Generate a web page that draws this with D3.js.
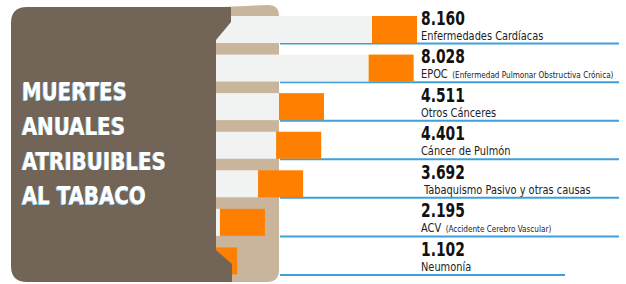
<!DOCTYPE html>
<html>
<head>
<meta charset="utf-8">
<script src="https://cdn.jsdelivr.net/npm/d3@7/dist/d3.min.js"></script>
<style>
  html, body { margin: 0; padding: 0; background: #ffffff; }
  svg { display: block; }
  .narrow { font-family: "Liberation Sans Narrow", "Arial Narrow", "DejaVu Sans Condensed", sans-serif; }
</style>
</head>
<body>
<svg id="chart" width="626" height="284"></svg>
<script>
// ---- data ----
const titleLines = ["MUERTES", "ANUALES", "ATRIBUIBLES", "AL TABACO"];
const categories = ["Enfermedades Cardíacas", "EPOC", "Otros Cánceres", "Cáncer de Pulmón",
                    "Tabaquismo Pasivo y otras causas", "ACV", "Neumonía"];
const notes = ["", "(Enfermedad Pulmonar Obstructiva Crónica)", "", "", "", "(Accidente Cerebro Vascular)", ""];
const values = [8160, 8028, 4511, 4401, 3692, 2195, 1102];
const valueLabels = ["8.160", "8.028", "4.511", "4.401", "3.692", "2.195", "1.102"];

// ---- style ----
const colBrown = "#726557", colTan = "#c8b59c", colGray = "#f1f3f3",
      colOrange = "#ff8000", colBlue = "#3f9fdb";

const svg = d3.select("#chart");
const rows = categories.map((c, i) => ({ cat: c, note: notes[i], v: values[i], lab: valueLabels[i] }));

const x = d3.scaleLinear().domain([0, d3.max(values)]).range([209, 417]);
const y = d3.scaleBand().domain(categories).range([5, 275]).paddingInner(0).paddingOuter(0);
const barOff = 11, barH = 27, orangeW = 45;

// tan background shape
const tan = d3.path();
tan.moveTo(200, 8); tan.lineTo(268, 5); tan.quadraticCurveTo(279, 5, 279, 16);
tan.lineTo(279, 270); tan.quadraticCurveTo(279, 282, 267, 282);
tan.lineTo(200, 282); tan.closePath();
svg.append("path").attr("d", tan.toString()).attr("fill", colTan);

// blue separator lines
svg.append("g").selectAll("line").data(rows).join("line")
  .attr("x1", 280)
  .attr("x2", (d, i) => i === rows.length - 1 ? 565 : 619)
  .attr("y1", d => y(d.cat) + y.bandwidth())
  .attr("y2", d => y(d.cat) + y.bandwidth())
  .attr("stroke", colBlue).attr("stroke-width", 2);

// gray bars
svg.append("g").selectAll("rect").data(rows).join("rect")
  .attr("x", x(0))
  .attr("y", d => y(d.cat) + barOff)
  .attr("width", d => Math.max(0, x(d.v) - orangeW - x(0)))
  .attr("height", barH)
  .attr("fill", colGray);

// orange bar ends
svg.append("g").selectAll("rect").data(rows).join("rect")
  .attr("x", d => x(d.v) - orangeW)
  .attr("y", d => y(d.cat) + barOff)
  .attr("width", orangeW)
  .attr("height", barH)
  .attr("fill", colOrange);

// brown title panel
const r = 16;
const br = d3.path();
br.moveTo(11 + r, 7); br.lineTo(231, 7); br.lineTo(231, 22); br.lineTo(216, 40);
br.lineTo(216, 250); br.lineTo(232, 264); br.lineTo(232, 282);
br.lineTo(11 + r, 282); br.quadraticCurveTo(11, 282, 11, 282 - r);
br.lineTo(11, 7 + r); br.quadraticCurveTo(11, 7, 11 + r, 7); br.closePath();
svg.append("path").attr("d", br.toString()).attr("fill", colBrown);

// title (condensed by horizontal squeeze)
const kTitle = 0.9;
const tg = svg.append("g").attr("class", "narrow")
  .attr("font-size", 24.5).attr("font-weight", "bold");
titleLines.forEach((t, i) => {
  const by = 100 + i * 34.8;
  tg.append("text").attr("transform", `translate(21.2,${by + 0.6}) scale(${kTitle},1)`)
    .attr("fill", "#a9d9f2").text(t);
  tg.append("text").attr("transform", `translate(22,${by}) scale(${kTitle},1)`)
    .attr("fill", "#ffffff").text(t);
});

// labels
const kVal = 0.8, kCat = 0.91;
const lg = svg.append("g").attr("class", "narrow");
lg.selectAll("text.val").data(rows).join("text").attr("class", "val")
  .attr("transform", d => `translate(421,${y(d.cat) + y.bandwidth() - 19}) scale(${kVal},1)`)
  .attr("font-size", 19.3).attr("font-weight", "bold").attr("fill", "#111")
  .text(d => d.lab);

const ct = lg.selectAll("text.cat").data(rows).join("text").attr("class", "cat")
  .attr("transform", (d, i) => `translate(${i === 4 ? 424 : 421},${y(d.cat) + y.bandwidth() - 4}) scale(${kCat},1)`)
  .attr("font-size", 12).attr("fill", "#222");
ct.append("tspan").text(d => d.cat);
ct.filter(d => d.note).append("tspan")
  .attr("dx", 5).attr("font-size", 8.9)
  .text(d => d.note);
</script>
</body>
</html>
